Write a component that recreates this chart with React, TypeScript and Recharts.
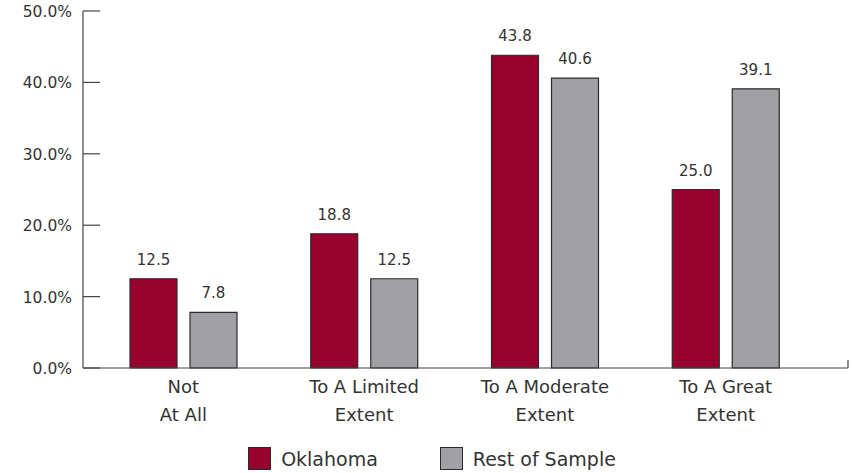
import React from 'react';
import { BarChart, Bar, XAxis, YAxis, Legend, LabelList } from 'recharts';

const categories = ['Not\nAt All', 'To A Limited\nExtent', 'To A Moderate\nExtent', 'To A Great\nExtent'];
const oklahoma = [12.5, 18.8, 43.8, 25.0];
const restOfSample = [7.8, 12.5, 40.6, 39.1];
const yTicks = [0, 10, 20, 30, 40, 50];

const data = categories.map((name, i) => ({ name, oklahoma: oklahoma[i], rest: restOfSample[i] }));

const FONT = '"DejaVu Sans", "Open Sans", sans-serif';
const TEXT = '#333333';
const RED = '#98002E';
const GRAY = '#A0A0A5';
const PAD_LEFT = 10;
const PAD_RIGHT = 32;

const YTick = (props: any) => {
  const { x, y, payload } = props;
  return (
    <g>
      <line x1={x + 11} x2={x + 28} y1={y} y2={y} stroke="#444" strokeWidth={1.2} />
      <text x={x} y={y} dy={6} textAnchor="end" fill={TEXT} fontSize={15.5} fontFamily={FONT}>
        {payload.value.toFixed(1)}%
      </text>
    </g>
  );
};

const XTick = (props: any) => {
  const { x, y, payload, index } = props;
  const lines = String(payload.value).split('\n');
  const half = payload.offset || 90.4;
  return (
    <g>
      {index === categories.length - 1 && (
        <line x1={x + half + PAD_RIGHT} x2={x + half + PAD_RIGHT} y1={y} y2={y - 8} stroke="#444" strokeWidth={1.2} />
      )}
      {lines.map((l, i) => (
        <text key={i} x={x} y={y + 25 + i * 28} textAnchor="middle" fill={TEXT} fontSize={18} fontFamily={FONT}>
          {l}
        </text>
      ))}
    </g>
  );
};

const LegendContent = () => (
  <div style={{ display: 'flex', justifyContent: 'center', gap: 62, fontFamily: FONT, fontSize: 19, color: TEXT, paddingTop: 14, marginLeft: 16 }}>
    {[{ label: 'Oklahoma', color: RED }, { label: 'Rest of Sample', color: GRAY }].map((it) => (
      <div key={it.label} style={{ display: 'flex', alignItems: 'center', gap: 10 }}>
        <span style={{ width: 21, height: 21, background: it.color, border: '1px solid #2b2b2b', display: 'inline-block' }} />
        <span>{it.label}</span>
      </div>
    ))}
  </div>
);

export default function App() {
  return (
    <div style={{ width: 852, height: 473, background: '#fff' }}>
      <style>{'body{margin:0}'}</style>
      <BarChart
        width={852}
        height={473}
        data={data}
        margin={{ top: 11, right: 4, left: 0, bottom: 0 }}
        barCategoryGap={37}
        barGap={13}
      >
        <YAxis
          type="number"
          domain={[0, 50]}
          ticks={yTicks}
          width={83}
          tickLine={false}
          tickSize={0}
          tickMargin={11}
          axisLine={{ stroke: '#444', strokeWidth: 1.2 }}
          tick={<YTick />}
        />
        <XAxis
          dataKey="name"
          height={65}
          padding={{ left: PAD_LEFT, right: PAD_RIGHT }}
          tickLine={false}
          tickSize={0}
          tickMargin={0}
          axisLine={{ stroke: '#444', strokeWidth: 1.2 }}
          tick={<XTick />}
          interval={0}
        />
        <Legend verticalAlign="bottom" height={40} content={<LegendContent />} />
        <Bar dataKey="oklahoma" fill={RED} stroke="#2b2b2b" strokeWidth={1.2} isAnimationActive={false}>
          <LabelList dataKey="oklahoma" position="top" offset={14} formatter={(v: any) => Number(v).toFixed(1)} fill={TEXT} fontSize={15} fontFamily={FONT} />
        </Bar>
        <Bar dataKey="rest" fill={GRAY} stroke="#2b2b2b" strokeWidth={1.2} isAnimationActive={false}>
          <LabelList dataKey="rest" position="top" offset={14} formatter={(v: any) => Number(v).toFixed(1)} fill={TEXT} fontSize={15} fontFamily={FONT} />
        </Bar>
      </BarChart>
    </div>
  );
}
